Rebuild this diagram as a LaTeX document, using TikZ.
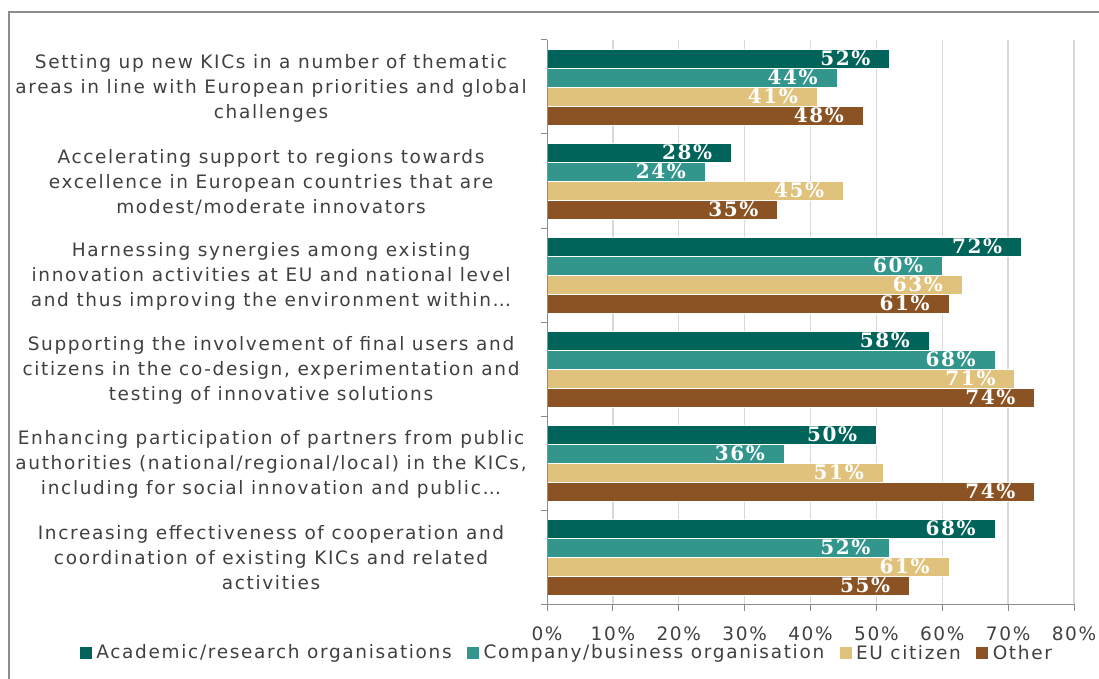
\documentclass[tikz,border=0pt]{standalone}
\usepackage{fontspec}
\setmainfont{DejaVu Sans}[LetterSpace=9]
\newfontfamily\serifbold{DejaVu Serif}[LetterSpace=8]
\usetikzlibrary{positioning}

\definecolor{acad}{HTML}{00645A}
\definecolor{comp}{HTML}{33968C}
\definecolor{citz}{HTML}{E0C27C}
\definecolor{othr}{HTML}{8B5323}
\definecolor{txtgray}{HTML}{404040}
\definecolor{gridgray}{HTML}{D9D9D9}
\definecolor{axisgray}{HTML}{8C8C8C}
\colorlet{bar0}{acad}
\colorlet{bar1}{comp}
\colorlet{bar2}{citz}
\colorlet{bar3}{othr}

\newcommand{\catfont}{\fontsize{18.5}{25}\selectfont}
\newcommand{\valfont}{\serifbold\bfseries\fontsize{20}{20}\selectfont}

\begin{document}
\begin{tikzpicture}[x=1pt,y=-1pt,
  barbox/.style={draw=white,line width=0.6pt},
  val/.style={anchor=east,text=white,font=\valfont,inner sep=2pt},
  catlbl/.style={align=center,text=txtgray,font=\catfont,inner sep=0pt},
  ticklbl/.style={text=txtgray,font=\catfont,inner sep=0pt},
  legbox/.style={minimum size=12pt,inner sep=0pt},
  legtxt/.style={text=txtgray,font=\catfont,inner sep=0pt}]
\useasboundingbox (0,0) rectangle (1099,679);

% frame
\draw[axisgray,line width=1.2pt] (1099,12) -- (9,12) -- (9,679);

% grid
\foreach \p in {10,20,...,80}
  \draw[gridgray,line width=1.3pt] (547+6.5875*\p,40) -- (547+6.5875*\p,604);

% bars and values
\foreach \vals [count=\k from 0] in {{52,44,41,48},{28,24,45,35},{72,60,63,61},
                                     {58,68,71,74},{50,36,51,74},{68,52,61,55}}{
  \foreach \val [count=\i from 0] in \vals {
    \pgfmathsetmacro\xe{547+6.5875*\val}
    \pgfmathsetmacro\yt{49+94*\k+19*\i}
    \draw[barbox,fill=bar\i] (547,\yt) rectangle (\xe,\yt+19);
    \node[val] (v\k\i) at (\xe-17,\yt+9.5) {\val\%};
  }
}

% axes
\draw[axisgray,line width=1pt] (547,40) -- (547,604) -- (1074,604);
\foreach \k in {0,...,6}
  \draw[axisgray,line width=1pt] (541,40+94*\k) -- (547,40+94*\k);
\foreach \p [count=\j from 0] in {0,10,...,80}{
  \draw[axisgray,line width=1pt] (547+6.5875*\p,604) -- (547+6.5875*\p,611);
  \node[ticklbl] (t\j) at (547+6.5875*\p,634) {\p\%};
}

% category labels
\foreach \txt [count=\k from 0] in {
  {Setting up new KICs in a number of thematic\\areas in line with European priorities and global\\challenges},
  {Accelerating support to regions towards\\excellence in European countries that are\\modest/moderate innovators},
  {Harnessing synergies among existing\\innovation activities at EU and national level\\and thus improving the environment within…},
  {Supporting the involvement of final users and\\citizens in the co-design, experimentation and\\testing of innovative solutions},
  {Enhancing participation of partners from public\\authorities (national/regional/local) in the KICs,\\including for social innovation and public…},
  {Increasing effectiveness of cooperation and\\coordination of existing KICs and related\\activities}}
  \node[catlbl] (cat\k) at (271,88+94*\k) {\txt};

% legend
\node[legbox,fill=acad] (lk0) at (86,653) {};
\node[legtxt,right=4pt of lk0] (lt0) {Academic/research organisations};
\node[legbox,fill=comp,right=15pt of lt0] (lk1) {};
\node[legtxt,right=4pt of lk1] (lt1) {Company/business organisation};
\node[legbox,fill=citz,right=15pt of lt1] (lk2) {};
\node[legtxt,right=4pt of lk2] (lt2) {EU citizen};
\node[legbox,fill=othr,right=15pt of lt2] (lk3) {};
\node[legtxt,right=4pt of lk3] (lt3) {Other};
\end{tikzpicture}
\end{document}
